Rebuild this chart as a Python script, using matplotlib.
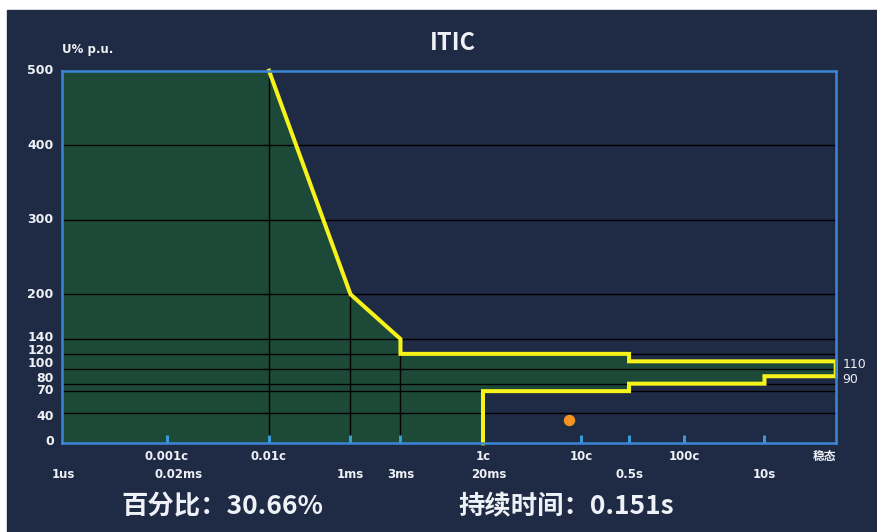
import matplotlib

matplotlib.use("Agg")
import matplotlib.pyplot as plt
import numpy as np
from matplotlib.patches import Rectangle
from matplotlib.ticker import NullLocator

plt.rcParams["font.family"] = ["Noto Sans CJK SC", "DejaVu Sans"]
AXIS_FONT = ["DejaVu Sans", "Noto Sans CJK SC"]

DPI = 100
PANEL = "#1f2a44"
GREEN = "#1d4a38"
SPINE = "#3b86d6"
TICK = "#3b9bd6"
YELLOW = "#f7f21a"
ORANGE = "#f39422"
TEXT = "#eef1f6"

STEADY = 100.0  # stand-in time (s) for the steady-state end of the axis

# ITIC tolerance envelope: time (s) and voltage (% of nominal)
itic_time = [2e-4, 1e-3, 3e-3, 3e-3, 0.5, 0.5, STEADY, STEADY, 10, 10, 0.5, 0.5, 2e-2, 2e-2]
itic_volt = [500, 200, 140, 120, 120, 110, 110, 90, 90, 80, 80, 70, 70, 0]

# measured event
event_pct = 30.66
event_dur = 0.151

y_ticks = [0, 40, 70, 80, 100, 120, 140, 200, 300, 400, 500]
grid_levels = [40, 70, 80, 100, 120, 140, 200, 300, 400]
drop_time = [2e-4, 1e-3, 3e-3]
drop_volt = [500, 200, 140]

tick_times = [2e-5, 2e-4, 1e-3, 3e-3, 2e-2, 0.2, 0.5, 2, 10]
cycle_times = [2e-5, 2e-4, 2e-2, 0.2, 2, STEADY]
cycle_labels = ["0.001c", "0.01c", "1c", "10c", "100c", "稳态"]
time_times = [1e-6, 2e-5, 1e-3, 3e-3, 2e-2, 0.5, 10]
time_labels = ["1us", "0.02ms", "1ms", "3ms", "20ms", "0.5s", "10s"]

# the time axis is log-like but stretched piecewise between the labelled points
SCALE_LOG_T = np.log10([1e-6, 2e-5, 2e-4, 1e-3, 3e-3, 2e-2, 0.2, 0.5, 2, 10, STEADY])
SCALE_POS = np.array([0, 0.1357, 0.2678, 0.3731, 0.4377, 0.5443, 0.6709, 0.7330, 0.8044, 0.9080, 1.0])


def t_forward(t):
    t = np.clip(np.asarray(t, dtype=float), 1e-9, None)
    return np.interp(np.log10(t), SCALE_LOG_T, SCALE_POS)


def t_inverse(u):
    return 10 ** np.interp(np.asarray(u, dtype=float), SCALE_POS, SCALE_LOG_T)


def px(value):
    return value * 72 / DPI


def draw_envelope(ax):
    fill_t = [1e-6, 1e-6] + itic_time
    fill_v = [0, 500] + itic_volt
    ax.fill(fill_t, fill_v, color=GREEN, lw=0, zorder=1)

    for level in grid_levels:
        ax.axhline(level, color="black", lw=1.0, zorder=2)
    ax.vlines(drop_time, 0, drop_volt, color="black", lw=1.0, zorder=2)

    ax.plot(itic_time, itic_volt, color=YELLOW, lw=2.9, zorder=4,
            solid_joinstyle="miter", clip_on=False)
    ax.plot([event_dur], [event_pct], "o", color=ORANGE, ms=7.2, zorder=5)


def draw_volt_labels(ax):
    # the crowded low labels are spread a little so they stay readable
    lift = {0: 2, 40: -3, 70: 1, 80: 5, 100: 5, 120: 3, 140: 1}
    for level in y_ticks:
        ax.annotate(str(level), xy=(0, level), xycoords=("axes fraction", "data"),
                    xytext=(px(-8), px(lift.get(level, 0))), textcoords="offset points",
                    ha="right", va="center", color=TEXT, fontsize=9, fontweight="bold",
                    family=AXIS_FONT, annotation_clip=False)


def draw_time_labels(ax):
    nudges = {"0.02ms": 12, "20ms": 6, "稳态": -11, "1us": 2}
    rows = [(cycle_times, cycle_labels, -13), (time_times, time_labels, -31)]
    for times, labels, dy in rows:
        for t, label in zip(times, labels):
            ax.annotate(label, xy=(t, 0), xycoords=("data", "axes fraction"),
                        xytext=(px(nudges.get(label, 0)), px(dy)), textcoords="offset points",
                        ha="center", va="center", color=TEXT, fontsize=8.5, fontweight="bold",
                        family=AXIS_FONT, annotation_clip=False)


def main():
    fig = plt.figure(figsize=(878 / DPI, 532 / DPI), dpi=DPI, facecolor="white")
    fig.add_artist(Rectangle((7 / 878, 0), 1, 1 - 10 / 532, transform=fig.transFigure,
                             color=PANEL, zorder=-10))

    ax = fig.add_axes((61.7 / 878, 1 - 443.3 / 532, 774 / 878, 372.6 / 532))
    ax.set_zorder(1)
    ax.set_axisbelow(False)
    ax.set_facecolor(PANEL)
    ax.set_xscale("function", functions=(t_forward, t_inverse))
    ax.set_xlim(1e-6, STEADY)
    ax.set_ylim(0, 500)

    draw_envelope(ax)

    ax.set_xticks(tick_times)
    ax.set_xticklabels([])
    ax.xaxis.set_minor_locator(NullLocator())
    ax.tick_params(axis="x", direction="in", length=px(8), width=px(3), color=TICK)

    ax.set_yticks([])
    ax.yaxis.set_minor_locator(NullLocator())

    for spine in ax.spines.values():
        spine.set_color(SPINE)
        spine.set_linewidth(px(2.5))
        spine.set_zorder(6)

    draw_volt_labels(ax)
    draw_time_labels(ax)

    # limit labels on the right edge
    for level, label in [(110, "110"), (90, "90")]:
        ax.annotate(label, xy=(1, level), xycoords=("axes fraction", "data"),
                    xytext=(px(7), px(-3)), textcoords="offset points",
                    ha="left", va="center", color=TEXT, fontsize=9,
                    family=AXIS_FONT, annotation_clip=False)

    fig.text(62 / 878, 1 - 49 / 532, "U% p.u.", color=TEXT, fontsize=8.5,
             fontweight="bold", family=AXIS_FONT, ha="left", va="center")
    fig.text(453 / 878, 1 - 43 / 532, "ITIC", color=TEXT, fontsize=17,
             fontweight="bold", ha="center", va="center")

    fig.text(222 / 878, 1 - 507 / 532, f"百分比：{event_pct:.2f}%", color=TEXT,
             fontsize=19, fontweight="bold", ha="center", va="center")
    fig.text(566 / 878, 1 - 507 / 532, f"持续时间：{event_dur:.3f}s", color=TEXT,
             fontsize=19, fontweight="bold", ha="center", va="center")

    fig.savefig("out.png", dpi=DPI, facecolor="white")
    plt.close(fig)


if __name__ == "__main__":
    main()
